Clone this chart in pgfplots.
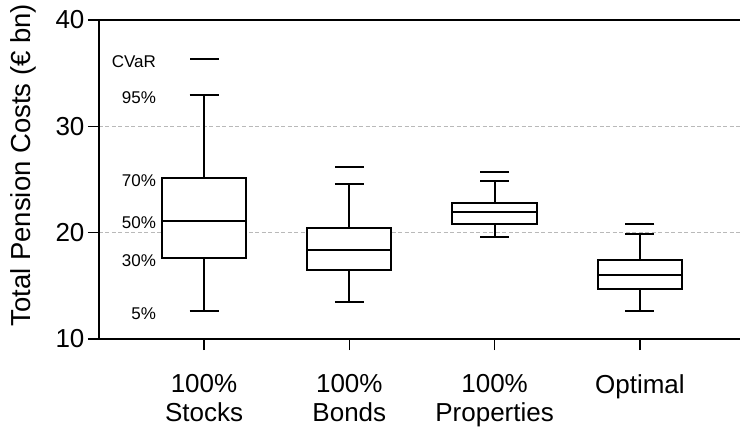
\documentclass[border=0pt]{standalone}
\usepackage{fontspec}
\setmainfont{Liberation Sans}
\usepackage{pgfplots}
\pgfplotsset{compat=1.18}
\usepgfplotslibrary{statistics}
\begin{document}
\begin{tikzpicture}
\useasboundingbox (0,0) rectangle (740pt,432pt);
\begin{axis}[
  at={(99pt,93pt)}, anchor=south west,
  scale only axis, width=641pt, height=319pt,
  xmin=0.277, xmax=4.689, ymin=10, ymax=40,
  axis x line=box, axis y line=left,
  axis line style={-, line width=1.3pt, black},
  xtick={1,2,3,4},
  xticklabels={{100\%\\Stocks},{100\%\\Bonds},{100\%\\Properties},{Optimal}},
  xticklabel style={align=center, font=\fontsize{26}{29}\selectfont, yshift=-21pt},
  ytick={10,20,30,40},
  yticklabel style={font=\fontsize{26}{30}\selectfont},
  /pgf/number format/assume math mode=true,
  tick align=outside, xtick pos=bottom, ytick pos=left,
  major tick length=11pt,
  tick style={line width=1.3pt, black},
  ymajorgrids, grid style={dash pattern=on 4pt off 2.5pt, gray!55, line width=0.9pt},
  ylabel={Total Pension Costs (€ bn)},
  ylabel style={font=\fontsize{27.5}{30}\selectfont, at={(rel axis cs:-0.1186,0.545)}, anchor=center},
  boxplot/draw direction=y,
  boxplot/every box/.style={fill=white},
  clip=false,
]
% 5%, 30%, 50%, 70%, 95%
\addplot[black, line width=2pt, boxplot prepared={lower whisker=12.6, lower quartile=17.6, median=21.1, upper quartile=25.1, upper whisker=32.9, draw position=1, box extend=0.58, whisker extend=0.2}] coordinates {};
\addplot[black, line width=2pt, boxplot prepared={lower whisker=13.5, lower quartile=16.5, median=18.4, upper quartile=20.4, upper whisker=24.6, draw position=2, box extend=0.58, whisker extend=0.2}] coordinates {};
\addplot[black, line width=2pt, boxplot prepared={lower whisker=19.6, lower quartile=20.8, median=21.9, upper quartile=22.8, upper whisker=24.9, draw position=3, box extend=0.58, whisker extend=0.2}] coordinates {};
\addplot[black, line width=2pt, boxplot prepared={lower whisker=12.6, lower quartile=14.7, median=16.0, upper quartile=17.4, upper whisker=19.9, draw position=4, box extend=0.58, whisker extend=0.2}] coordinates {};
% CVaR
\addplot[only marks, mark=-, mark size=14.5pt, mark options={line width=2pt, black}] coordinates {(1,36.3) (2,26.2) (3,25.7) (4,20.8)};
\begin{scope}[every node/.style={anchor=east, font=\fontsize{17}{20}\selectfont, yshift=-2pt, inner sep=0pt}]
\node at (axis cs:0.67,36.3) {CVaR};
\node at (axis cs:0.67,32.9) {95\%};
\node at (axis cs:0.67,25.1) {70\%};
\node at (axis cs:0.67,21.1) {50\%};
\node at (axis cs:0.67,17.6) {30\%};
\node at (axis cs:0.67,12.6) {5\%};
\end{scope}
\end{axis}
\end{tikzpicture}
\end{document}
